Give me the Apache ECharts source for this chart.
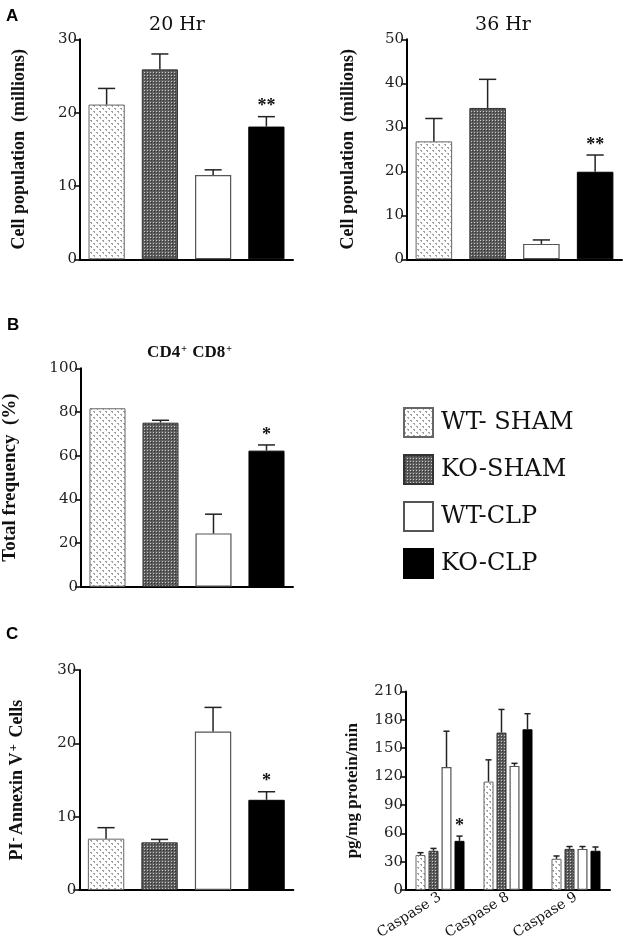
<!DOCTYPE html>
<html>
<head>
<meta charset="utf-8">
<script src="https://cdn.jsdelivr.net/npm/echarts@6/dist/echarts.min.js"></script>
<style>html,body{margin:0;padding:0;background:#fff}#c{width:628px;height:945px}</style>
</head>
<body>
<div id="c"></div>
<script>
// ---------------- data ----------------
const groups = ['WT-SHAM', 'KO-SHAM', 'WT-CLP', 'KO-CLP'];
const legendLabels = ['WT- SHAM', 'KO-SHAM', 'WT-CLP', 'KO-CLP'];

const hr20Mean = [21.1, 25.9, 11.5, 18.1];
const hr20Sem  = [2.2, 2.1, 0.7, 1.35];
const hr20Sig  = ['', '', '', '**'];
const hr20Ticks = [0, 10, 20, 30];

const hr36Mean = [26.8, 34.4, 3.5, 19.9];
const hr36Sem  = [5.2, 6.5, 0.9, 3.8];
const hr36Sig  = ['', '', '', '**'];
const hr36Ticks = [0, 10, 20, 30, 40, 50];

const cdMean = [81.7, 75.1, 24.4, 62.3];
const cdSem  = [0, 1.1, 8.8, 2.6];
const cdSig  = ['', '', '', '*'];
const cdTicks = [0, 20, 40, 60, 80, 100];

const annMean = [7.0, 6.5, 21.6, 12.3];
const annSem  = [1.5, 0.4, 3.3, 1.1];
const annSig  = ['', '', '', '*'];
const annTicks = [0, 10, 20, 30];

const caspases = ['Caspase 3', 'Caspase 8', 'Caspase 9'];
const caspWtShamMean = [37, 114.7, 33];
const caspWtShamSem  = [2.5, 23, 3];
const caspKoShamMean = [41.5, 166.5, 43.5];
const caspKoShamSem  = [2.5, 24.5, 2.5];
const caspWtClpMean  = [130, 131.3, 43.5];
const caspWtClpSem   = [38, 2.7, 2.5];
const caspKoClpMean  = [52, 170, 41.5];
const caspKoClpSem   = [5, 16.5, 4];
const caspKoClpSig   = ['*', '', ''];
const caspTicks = [0, 30, 60, 90, 120, 150, 180, 210];

// ---------------- patterns ----------------
function wtPattern() {
  const c = document.createElement('canvas');
  c.width = 6; c.height = 6;
  const g = c.getContext('2d');
  g.fillStyle = '#ffffff'; g.fillRect(0, 0, 6, 6);
  g.fillStyle = '#a0a0a0';
  g.fillRect(0, 0, 2, 1); g.fillRect(1, 1, 1, 1);
  g.fillRect(3, 3, 2, 1); g.fillRect(4, 4, 1, 1);
  return c;
}
function koPattern() {
  const c = document.createElement('canvas');
  c.width = 3; c.height = 3;
  const g = c.getContext('2d');
  g.fillStyle = '#5e5e5e'; g.fillRect(0, 0, 3, 3);
  g.fillStyle = '#cacaca'; g.fillRect(0, 0, 1, 1);
  g.fillStyle = '#333333'; g.fillRect(1, 1, 1, 1);
  return c;
}
const patWt = { image: wtPattern(), repeat: 'repeat' };
const patKo = { image: koPattern(), repeat: 'repeat' };

const styles = [
  { color: patWt, borderColor: '#666', borderWidth: 1 },
  { color: patKo, borderColor: '#333', borderWidth: 1 },
  { color: '#ffffff', borderColor: '#555', borderWidth: 1.2 },
  { color: '#000000', borderColor: '#000', borderWidth: 1 }
];

const tickFont = { fontFamily: 'DejaVu Serif', fontSize: 15, color: '#222' };
const nameFont = (sz) => ({ fontFamily: 'Liberation Serif', fontWeight: 'bold', fontSize: sz, color: '#111' });

// ---------------- layout ----------------
const grids = [
  { left: 80, top: 39.3, width: 213, height: 220 },
  { left: 407, top: 39.3, width: 215, height: 220 },
  { left: 80, top: 368.3, width: 213, height: 218.4 },
  { left: 79.3, top: 670, width: 214, height: 220 },
  { left: 406, top: 691.5, width: 204, height: 198.5 }
];

function yAxis(gi, ticks, name, nameGap, nameSize, rich) {
  const ax = {
    gridIndex: gi, type: 'value', min: ticks[0], max: ticks[ticks.length - 1],
    interval: ticks[1] - ticks[0],
    axisLine: { show: true, lineStyle: { color: '#000', width: 2 } },
    axisTick: { show: true, length: 6, lineStyle: { color: '#000', width: 1.5 } },
    axisLabel: Object.assign({ margin: 3 }, tickFont),
    splitLine: { show: false },
    name: name, nameLocation: 'middle', nameGap: nameGap,
    nameTextStyle: nameFont(nameSize)
  };
  if (rich) ax.nameTextStyle.rich = rich;
  return ax;
}
function xAxisPlain(gi) {
  return {
    gridIndex: gi, type: 'category', data: groups,
    axisLine: { lineStyle: { color: '#000', width: 2 } },
    axisTick: { show: false }, axisLabel: { show: false }, splitLine: { show: false }
  };
}

function errRender(means, sems, sigs, offsetFn, capFrac, sigSize) {
  return function (params, api) {
    const i = params.dataIndex;
    const cat = api.value(0);
    const m = means[i], s = sems[i];
    const base = api.coord([cat, m]);
    const top = api.coord([cat, m + s]);
    const cw = api.size([1, 0])[0];
    const x = base[0] + offsetFn(cw);
    const hc = cw * capFrac;
    const children = [];
    if (s > 0) {
      children.push({ type: 'line', shape: { x1: x, y1: base[1], x2: x, y2: top[1] }, style: { stroke: '#222', lineWidth: 1.5 } });
      children.push({ type: 'line', shape: { x1: x - hc, y1: top[1], x2: x + hc, y2: top[1] }, style: { stroke: '#222', lineWidth: 1.5 } });
    }
    if (sigs && sigs[i]) {
      children.push({ type: 'text', style: { text: sigs[i], x: x, y: top[1] - 1, align: 'center', verticalAlign: 'bottom', font: 'bold ' + sigSize + 'px "Liberation Serif"', fill: '#111' } });
    }
    return { type: 'group', children: children };
  };
}

function singleSeries(gi, means, sems, sigs) {
  return [
    {
      type: 'bar', xAxisIndex: gi, yAxisIndex: gi, barWidth: '68%', silent: true,
      data: means.map((v, i) => ({ value: v, itemStyle: styles[i] }))
    },
    {
      type: 'custom', xAxisIndex: gi, yAxisIndex: gi, silent: true, z: 5,
      data: means.map((v, i) => [i, v]),
      renderItem: errRender(means, sems, sigs, () => 0, 0.16, 18)
    }
  ];
}

const caspMeans = [caspWtShamMean, caspKoShamMean, caspWtClpMean, caspKoClpMean];
const caspSems = [caspWtShamSem, caspKoShamSem, caspWtClpSem, caspKoClpSem];
const caspSigs = [null, null, null, caspKoClpSig];
const barW = 10, barStep = 13;

const caspSeries = [];
groups.forEach((g, k) => {
  caspSeries.push({
    name: g, type: 'bar', xAxisIndex: 4, yAxisIndex: 4, barWidth: barW, barGap: '30%', silent: true,
    itemStyle: styles[k], data: caspMeans[k]
  });
});
groups.forEach((g, k) => {
  caspSeries.push({
    type: 'custom', xAxisIndex: 4, yAxisIndex: 4, silent: true, z: 5,
    data: caspMeans[k].map((v, i) => [i, v]),
    renderItem: errRender(caspMeans[k], caspSems[k], caspSigs[k], () => (k - 1.5) * barStep, 0.045, 18)
  });
});

const supRich = {
  sup: { fontFamily: 'Liberation Serif', fontWeight: 'bold', fontSize: 13, verticalAlign: 'top', padding: [0, 2, 8, 1], color: '#111' }
};

const option = {
  animation: false,
  grid: grids,
  xAxis: [
    xAxisPlain(0), xAxisPlain(1), xAxisPlain(2), xAxisPlain(3),
    {
      gridIndex: 4, type: 'category', data: caspases,
      axisLine: { lineStyle: { color: '#000', width: 2 } },
      axisTick: { show: false },
      axisLabel: Object.assign({ rotate: 32, margin: 6, interval: 0 }, tickFont, { fontSize: 14, color: '#111' }),
      splitLine: { show: false }
    }
  ],
  yAxis: [
    yAxis(0, hr20Ticks, 'Cell population  (millions)', 52, 18),
    yAxis(1, hr36Ticks, 'Cell population  (millions)', 50, 18),
    yAxis(2, cdTicks, 'Total frequency  (%)', 61, 19),
    yAxis(3, annTicks, 'PI{sup|-}Annexin V{sup|+} Cells', 51, 18, supRich),
    yAxis(4, caspTicks, 'pg/mg protein/min', 45, 17)
  ],
  legend: {
    data: groups, orient: 'vertical', left: 398, top: 402,
    icon: 'rect', itemWidth: 29, itemHeight: 29, itemGap: 16,
    formatter: (name) => legendLabels[groups.indexOf(name)],
    textStyle: { fontFamily: 'DejaVu Serif', fontSize: 24, color: '#111', padding: [0, 0, 0, 3] },
    selectedMode: false
  },
  graphic: [
    { type: 'text', style: { text: 'A', x: 6, y: 16, verticalAlign: 'middle', font: 'bold 17px "Liberation Sans"', fill: '#000' } },
    { type: 'text', style: { text: 'B', x: 7, y: 325, verticalAlign: 'middle', font: 'bold 17px "Liberation Sans"', fill: '#000' } },
    { type: 'text', style: { text: 'C', x: 6, y: 634, verticalAlign: 'middle', font: 'bold 17px "Liberation Sans"', fill: '#000' } },
    { type: 'text', style: { text: '20 Hr', x: 177, y: 25, align: 'center', verticalAlign: 'middle', font: '19px "DejaVu Serif"', fill: '#111' } },
    { type: 'text', style: { text: '36 Hr', x: 503, y: 25, align: 'center', verticalAlign: 'middle', font: '19px "DejaVu Serif"', fill: '#111' } },
    { type: 'text', style: {
        text: 'CD4{sup|+} CD8{sup|+}', x: 190, y: 353, align: 'center', verticalAlign: 'middle',
        font: 'bold 17px "Liberation Serif"', fill: '#111',
        rich: { sup: { font: 'bold 10px "Liberation Serif"', verticalAlign: 'top', padding: [0, 1, 8, 1], fill: '#111' } }
    } }
  ],
  series: [].concat(
    singleSeries(0, hr20Mean, hr20Sem, hr20Sig),
    singleSeries(1, hr36Mean, hr36Sem, hr36Sig),
    singleSeries(2, cdMean, cdSem, cdSig),
    singleSeries(3, annMean, annSem, annSig),
    caspSeries
  )
};

const chart = echarts.init(document.getElementById('c'), null, { renderer: 'canvas' });
chart.setOption(option);
</script>
</body>
</html>
